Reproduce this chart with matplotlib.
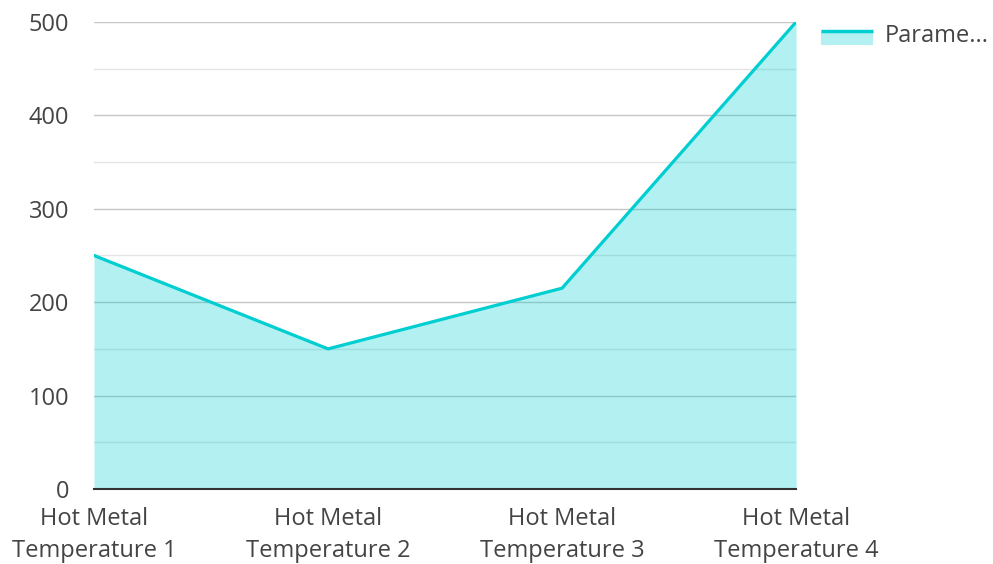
import matplotlib.pyplot as plt
from matplotlib.legend_handler import HandlerBase
from matplotlib.patches import Rectangle
from matplotlib.lines import Line2D

plt.rcParams['font.family'] = ['Open Sans', 'DejaVu Sans']

categories = ['Hot Metal\nTemperature 1', 'Hot Metal\nTemperature 2',
              'Hot Metal\nTemperature 3', 'Hot Metal\nTemperature 4']
values = [250, 150, 215, 500]
series_name = 'Parame...'

line_color = '#00CED1'
fill_alpha = 0.3
text_color = '#444444'


class AreaHandler(HandlerBase):
    # filled box with the line sitting on its top edge
    def create_artists(self, legend, orig, xd, yd, w, h, fontsize, trans):
        box = Rectangle((xd, yd - h * 0.2), w, h * 0.85, facecolor=line_color,
                        alpha=fill_alpha, edgecolor='none', transform=trans)
        top = yd - h * 0.2 + h * 0.85
        ln = Line2D([xd, xd + w], [top, top], color=line_color, lw=2.5,
                    solid_capstyle='butt', transform=trans)
        return [box, ln]


fig = plt.figure(figsize=(9.93, 5.64), dpi=100)
ax = fig.add_axes([0.0947, 0.133, 0.707, 0.828])

x = list(range(len(values)))
ax.fill_between(x, values, 0, color=line_color, alpha=fill_alpha, lw=0, zorder=2)
ax.plot(x, values, color=line_color, lw=2.3, zorder=3)

ax.set_xlim(0, len(values) - 1)
ax.set_ylim(0, 500)
ax.set_yticks(range(0, 501, 100))
ax.set_yticks(range(50, 500, 100), minor=True)
ax.grid(axis='y', which='major', color='#c6c6c6', lw=1, zorder=1)
ax.grid(axis='y', which='minor', color='#e4e4e4', lw=1, zorder=1)
ax.set_axisbelow(True)

ax.set_xticks(x)
ax.set_xticklabels(categories, fontsize=17, color=text_color, linespacing=1.45)
ax.tick_params(axis='both', which='both', length=0, labelsize=17, labelcolor=text_color)
ax.tick_params(axis='y', pad=18)
ax.tick_params(axis='x', pad=13)

for s in ['top', 'right', 'left']:
    ax.spines[s].set_visible(False)
ax.spines['bottom'].set_color('#333333')
ax.spines['bottom'].set_linewidth(1.5)
ax.spines['bottom'].set_zorder(4)

dummy = Line2D([], [])
fig.legend([dummy], [series_name], handler_map={Line2D: AreaHandler()},
           loc='upper left', bbox_to_anchor=(0.805, 0.996), frameon=False,
           fontsize=17, labelcolor=text_color, handlelength=2.2, handletextpad=0.5)

fig.savefig('out.png', dpi=100)
